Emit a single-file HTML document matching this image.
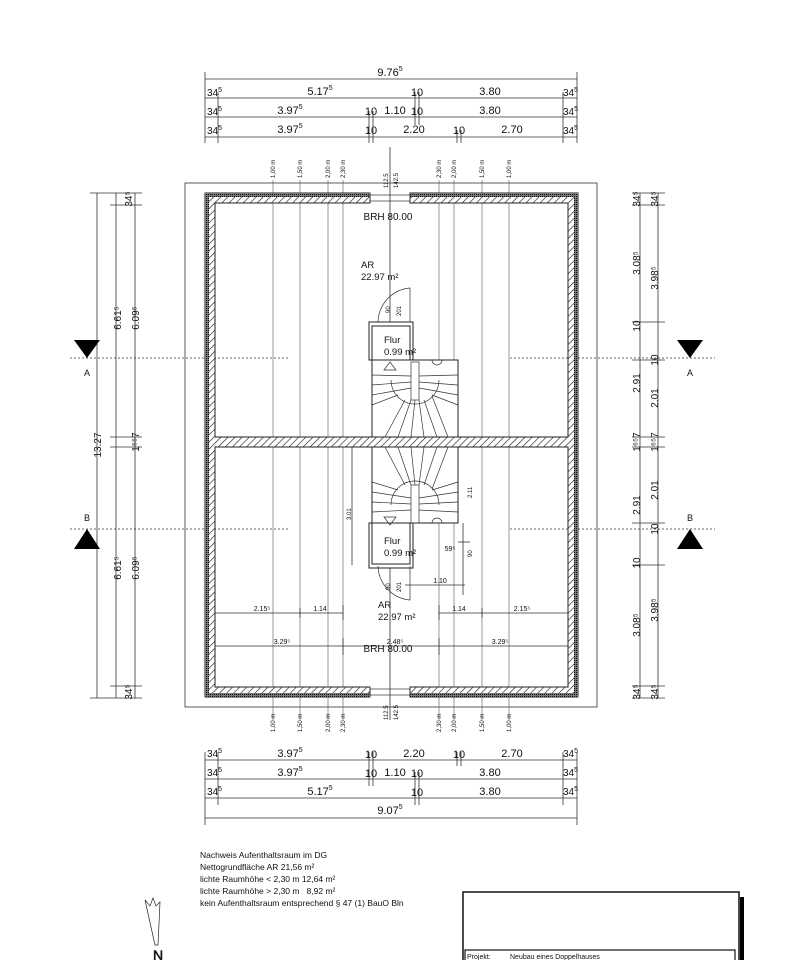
<!DOCTYPE html>
<html><head><meta charset="utf-8"><style>body{margin:0;background:#fff}svg{display:block}text{font-family:"Liberation Sans",sans-serif;fill:#111}</style></head><body>
<svg width="797" height="960" viewBox="0 0 797 960" xmlns="http://www.w3.org/2000/svg">
<defs>
<pattern id="h" width="5" height="5" patternUnits="userSpaceOnUse" patternTransform="rotate(45)"><rect width="5" height="5" fill="#fff"/><line x1="0" y1="0" x2="0" y2="5" stroke="#222" stroke-width="1.3"/></pattern>
<pattern id="d" width="2" height="2" patternUnits="userSpaceOnUse"><rect width="2" height="2" fill="#777"/><rect width="1" height="1" fill="#111"/></pattern>
</defs>
<g stroke="#333" stroke-width="0.8" fill="none">
<line x1="205" y1="79" x2="577" y2="79"/><line x1="205" y1="98" x2="577" y2="98"/><line x1="205" y1="117" x2="577" y2="117"/><line x1="205" y1="137" x2="577" y2="137"/>
<line x1="205" y1="72" x2="205" y2="143"/><line x1="577" y1="72" x2="577" y2="143"/><line x1="218" y1="92" x2="218" y2="143"/><line x1="563" y1="92" x2="563" y2="143"/>
<line x1="415" y1="92" x2="415" y2="125"/><line x1="419" y1="92" x2="419" y2="125"/><line x1="369" y1="111" x2="369" y2="143"/><line x1="373" y1="111" x2="373" y2="143"/><line x1="457" y1="130" x2="457" y2="143"/><line x1="461" y1="130" x2="461" y2="143"/>
<line x1="390" y1="147" x2="390" y2="720"/>
<line x1="205" y1="760" x2="577" y2="760"/><line x1="205" y1="779" x2="577" y2="779"/><line x1="205" y1="798" x2="577" y2="798"/><line x1="205" y1="818" x2="577" y2="818"/>
<line x1="205" y1="752" x2="205" y2="825"/><line x1="577" y1="752" x2="577" y2="825"/><line x1="218" y1="752" x2="218" y2="805"/><line x1="563" y1="752" x2="563" y2="805"/>
<line x1="369" y1="752" x2="369" y2="786"/><line x1="373" y1="752" x2="373" y2="786"/><line x1="457" y1="752" x2="457" y2="766"/><line x1="461" y1="752" x2="461" y2="766"/><line x1="415" y1="772" x2="415" y2="805"/><line x1="419" y1="772" x2="419" y2="805"/>
<line x1="97" y1="193" x2="97" y2="698"/><line x1="116" y1="193" x2="116" y2="698"/><line x1="135" y1="193" x2="135" y2="698"/>
<line x1="90" y1="193" x2="142" y2="193"/><line x1="90" y1="698" x2="142" y2="698"/><line x1="110" y1="205" x2="142" y2="205"/><line x1="110" y1="686" x2="142" y2="686"/><line x1="110" y1="437" x2="142" y2="437"/><line x1="110" y1="447" x2="142" y2="447"/>
<line x1="640" y1="193" x2="640" y2="698"/><line x1="658" y1="193" x2="658" y2="698"/>
<line x1="632" y1="193" x2="665" y2="193"/><line x1="632" y1="698" x2="665" y2="698"/><line x1="632" y1="205" x2="665" y2="205"/><line x1="632" y1="686" x2="665" y2="686"/><line x1="632" y1="437" x2="665" y2="437"/><line x1="632" y1="447" x2="665" y2="447"/><line x1="632" y1="322" x2="665" y2="322"/><line x1="632" y1="360" x2="665" y2="360"/><line x1="632" y1="523" x2="665" y2="523"/><line x1="632" y1="565" x2="665" y2="565"/>
<line x1="70" y1="358" x2="290" y2="358" stroke-dasharray="2,2"/><line x1="510" y1="358" x2="715" y2="358" stroke-dasharray="2,2"/>
<line x1="70" y1="529" x2="290" y2="529" stroke-dasharray="2,2"/><line x1="510" y1="529" x2="715" y2="529" stroke-dasharray="2,2"/>
<rect x="185" y="183" width="412" height="524"/>
<g stroke="#555" stroke-width="0.6"><line x1="273" y1="180" x2="273" y2="720"/><line x1="300" y1="180" x2="300" y2="720"/><line x1="328" y1="180" x2="328" y2="720"/><line x1="343" y1="180" x2="343" y2="720"/><line x1="439" y1="180" x2="439" y2="720"/><line x1="454" y1="180" x2="454" y2="720"/><line x1="482" y1="180" x2="482" y2="720"/><line x1="509" y1="180" x2="509" y2="720"/></g>
<line x1="215" y1="613" x2="343" y2="613"/><line x1="439" y1="613" x2="568" y2="613"/><line x1="215" y1="646" x2="568" y2="646"/>
<line x1="300" y1="608" x2="300" y2="618"/><line x1="343" y1="605" x2="343" y2="620"/><line x1="439" y1="605" x2="439" y2="620"/><line x1="482" y1="608" x2="482" y2="618"/><line x1="343" y1="638" x2="343" y2="655"/><line x1="439" y1="638" x2="439" y2="655"/>
<line x1="352" y1="447" x2="352" y2="565"/><line x1="405" y1="585" x2="465" y2="585"/><line x1="463" y1="523" x2="463" y2="595"/><line x1="458" y1="542" x2="470" y2="542"/>
</g>
<path d="M205 193H370V203H215V437H568V203H410V193H578V697H410V687H568V447H215V687H370V697H205Z" fill="url(#h)" stroke="#222" stroke-width="1"/>
<rect x="205" y="193" width="165" height="4" fill="url(#d)"/><rect x="410" y="193" width="168" height="4" fill="url(#d)"/><rect x="205" y="693" width="165" height="4" fill="url(#d)"/><rect x="410" y="693" width="168" height="4" fill="url(#d)"/>
<rect x="205" y="193" width="4" height="504" fill="url(#d)"/><rect x="574" y="193" width="4" height="504" fill="url(#d)"/>
<g stroke="#333" stroke-width="0.7" fill="none"><rect x="370" y="195" width="40" height="6"/><rect x="370" y="689" width="40" height="6"/></g>
<g stroke="#222" stroke-width="1" fill="#fff">
<rect x="369" y="322" width="44" height="38"/><rect x="372" y="326" width="38" height="34"/>
<rect x="372" y="360" width="86" height="77"/><rect x="372" y="447" width="86" height="76"/>
<rect x="369" y="523" width="44" height="45"/><rect x="372" y="523" width="38" height="41"/>
</g>
<g stroke="#333" stroke-width="0.7" fill="none">
<rect x="411" y="362" width="8" height="38"/><rect x="411" y="485" width="8" height="38"/>
<path d="M391 380 A24 24 0 0 0 439 380"/><path d="M391 505 A24 24 0 0 1 439 505"/>
<path d="M372 375L411 376M372 385L411 382M372 395L411 388M372 405L398 395M458 375L419 376M458 385L419 382M458 395L419 388M458 405L432 395M385 437L405 400M398 437L411 400M411 437L415 400M424 437L419 400M437 437L424 400M448 437L432 396"/>
<path d="M372 512L411 510M372 502L411 504M372 492L411 498M372 482L398 490M458 512L419 510M458 502L419 504M458 492L419 498M458 482L432 490M385 447L405 485M398 447L411 485M411 447L415 485M424 447L419 485M437 447L424 485M448 447L432 489"/>
<path d="M384 370L390 362L396 370Z"/><path d="M384 517L390 525L396 517Z"/>
<path d="M432 360A5 5 0 0 0 442 360M432 523A5 5 0 0 1 442 523"/>
<path d="M378 322A35 35 0 0 1 410 288V322"/><path d="M378 566A35 35 0 0 0 410 600V566"/>
</g>
<path d="M74 340H100L87 358Z M677 340H703L690 358Z M74 549H100L87 529Z M677 549H703L690 529Z" fill="#000"/>
<g font-size="11">
<text x="390" y="76" text-anchor="middle">9.76<tspan font-size="7" dy="-5">5</tspan></text>
<g font-size="10">
<text x="207" y="96">34<tspan font-size="7" dy="-4">5</tspan></text><text x="207" y="115">34<tspan font-size="7" dy="-4">5</tspan></text><text x="207" y="134">34<tspan font-size="7" dy="-4">5</tspan></text>
<text x="563" y="96">34<tspan font-size="7" dy="-4">5</tspan></text><text x="563" y="115">34<tspan font-size="7" dy="-4">5</tspan></text><text x="563" y="134">34<tspan font-size="7" dy="-4">5</tspan></text>
<text x="207" y="776">34<tspan font-size="7" dy="-4">5</tspan></text><text x="207" y="757">34<tspan font-size="7" dy="-4">5</tspan></text><text x="207" y="795">34<tspan font-size="7" dy="-4">5</tspan></text>
<text x="563" y="776">34<tspan font-size="7" dy="-4">5</tspan></text><text x="563" y="757">34<tspan font-size="7" dy="-4">5</tspan></text><text x="563" y="795">34<tspan font-size="7" dy="-4">5</tspan></text>
</g>
<text x="320" y="95" text-anchor="middle">5.17<tspan font-size="7" dy="-5">5</tspan></text><text x="417" y="96" text-anchor="middle">10</text><text x="490" y="95" text-anchor="middle">3.80</text>
<text x="290" y="114" text-anchor="middle">3.97<tspan font-size="7" dy="-5">5</tspan></text><text x="371" y="115" text-anchor="middle">10</text><text x="395" y="114" text-anchor="middle">1.10</text><text x="417" y="115" text-anchor="middle">10</text><text x="490" y="114" text-anchor="middle">3.80</text>
<text x="290" y="133" text-anchor="middle">3.97<tspan font-size="7" dy="-5">5</tspan></text><text x="371" y="134" text-anchor="middle">10</text><text x="414" y="133" text-anchor="middle">2.20</text><text x="459" y="134" text-anchor="middle">10</text><text x="512" y="133" text-anchor="middle">2.70</text>
<text x="290" y="757" text-anchor="middle">3.97<tspan font-size="7" dy="-5">5</tspan></text><text x="371" y="758" text-anchor="middle">10</text><text x="414" y="757" text-anchor="middle">2.20</text><text x="459" y="758" text-anchor="middle">10</text><text x="512" y="757" text-anchor="middle">2.70</text>
<text x="290" y="776" text-anchor="middle">3.97<tspan font-size="7" dy="-5">5</tspan></text><text x="371" y="777" text-anchor="middle">10</text><text x="395" y="776" text-anchor="middle">1.10</text><text x="417" y="777" text-anchor="middle">10</text><text x="490" y="776" text-anchor="middle">3.80</text>
<text x="320" y="795" text-anchor="middle">5.17<tspan font-size="7" dy="-5">5</tspan></text><text x="417" y="796" text-anchor="middle">10</text><text x="490" y="795" text-anchor="middle">3.80</text>
<text x="390" y="814" text-anchor="middle">9.07<tspan font-size="7" dy="-5">5</tspan></text>
<text x="87" y="376" text-anchor="middle" font-size="9">A</text><text x="87" y="521" text-anchor="middle" font-size="9">B</text>
<text x="690" y="376" text-anchor="middle" font-size="9">A</text><text x="690" y="521" text-anchor="middle" font-size="9">B</text>
<text x="388" y="220" text-anchor="middle" font-size="10">BRH 80.00</text><text x="388" y="652" text-anchor="middle" font-size="10">BRH 80.00</text>
<g font-size="9.5"><text x="361" y="268">AR</text><text x="361" y="280">22.97 m²</text><text x="378" y="608">AR</text><text x="378" y="620">22.97 m²</text>
<text x="384" y="343">Flur</text><text x="384" y="355">0.99 m²</text><text x="384" y="544">Flur</text><text x="384" y="556">0.99 m²</text></g>
<g font-size="7"><text x="262" y="611" text-anchor="middle">2.15⁵</text><text x="320" y="611" text-anchor="middle">1.14</text><text x="459" y="611" text-anchor="middle">1.14</text><text x="522" y="611" text-anchor="middle">2.15⁵</text>
<text x="282" y="644" text-anchor="middle">3.29⁵</text><text x="395" y="644" text-anchor="middle">2.48⁵</text><text x="500" y="644" text-anchor="middle">3.29⁵</text><text x="440" y="583" text-anchor="middle">1.10</text><text x="450" y="551" text-anchor="middle">59⁵</text></g>
<g font-size="10">
<text transform="translate(101,445) rotate(-90)" text-anchor="middle">13.27</text>
<text transform="translate(121,318) rotate(-90)" text-anchor="middle">6.61⁵</text><text transform="translate(139,318) rotate(-90)" text-anchor="middle">6.09⁵</text>
<text transform="translate(121,568) rotate(-90)" text-anchor="middle">6.61⁵</text><text transform="translate(139,568) rotate(-90)" text-anchor="middle">6.09⁵</text>
<text transform="translate(132,199) rotate(-90)" text-anchor="middle">34⁵</text><text transform="translate(132,692) rotate(-90)" text-anchor="middle">34⁵</text>
<text transform="translate(139,442) rotate(-90)" text-anchor="middle">1⁶⁵7</text>
<text transform="translate(640,199) rotate(-90)" text-anchor="middle">34⁵</text><text transform="translate(658,199) rotate(-90)" text-anchor="middle">34⁵</text>
<text transform="translate(640,692) rotate(-90)" text-anchor="middle">34⁵</text><text transform="translate(658,692) rotate(-90)" text-anchor="middle">34⁵</text>
<text transform="translate(640,263) rotate(-90)" text-anchor="middle">3.08⁵</text><text transform="translate(658,278) rotate(-90)" text-anchor="middle">3.98⁵</text>
<text transform="translate(640,326) rotate(-90)" text-anchor="middle">10</text><text transform="translate(658,360) rotate(-90)" text-anchor="middle">10</text>
<text transform="translate(640,383) rotate(-90)" text-anchor="middle">2.91</text><text transform="translate(658,398) rotate(-90)" text-anchor="middle">2.01</text>
<text transform="translate(640,442) rotate(-90)" text-anchor="middle">1⁶⁵7</text><text transform="translate(658,442) rotate(-90)" text-anchor="middle">1⁶⁵7</text>
<text transform="translate(640,505) rotate(-90)" text-anchor="middle">2.91</text><text transform="translate(658,490) rotate(-90)" text-anchor="middle">2.01</text>
<text transform="translate(640,563) rotate(-90)" text-anchor="middle">10</text><text transform="translate(658,529) rotate(-90)" text-anchor="middle">10</text>
<text transform="translate(640,625) rotate(-90)" text-anchor="middle">3.08⁵</text><text transform="translate(658,610) rotate(-90)" text-anchor="middle">3.98⁵</text>
</g>
<g font-size="6">
<text transform="translate(275,178) rotate(-90)">1,00 m</text><text transform="translate(302,178) rotate(-90)">1,50 m</text><text transform="translate(330,178) rotate(-90)">2,00 m</text><text transform="translate(345,178) rotate(-90)">2,30 m</text>
<text transform="translate(441,178) rotate(-90)">2,30 m</text><text transform="translate(456,178) rotate(-90)">2,00 m</text><text transform="translate(484,178) rotate(-90)">1,50 m</text><text transform="translate(511,178) rotate(-90)">1,00 m</text>
<text transform="translate(388,188) rotate(-90)">112.5</text><text transform="translate(398,188) rotate(-90)">142.5</text>
<text transform="translate(275,732) rotate(-90)">1,00 m</text><text transform="translate(302,732) rotate(-90)">1,50 m</text><text transform="translate(330,732) rotate(-90)">2,00 m</text><text transform="translate(345,732) rotate(-90)">2,30 m</text>
<text transform="translate(441,732) rotate(-90)">2,30 m</text><text transform="translate(456,732) rotate(-90)">2,00 m</text><text transform="translate(484,732) rotate(-90)">1,50 m</text><text transform="translate(511,732) rotate(-90)">1,00 m</text>
<text transform="translate(388,720) rotate(-90)">112.5</text><text transform="translate(398,720) rotate(-90)">142.5</text>
<text transform="translate(390,313) rotate(-90)">90</text><text transform="translate(401,316) rotate(-90)">201</text>
<text transform="translate(390,590) rotate(-90)">90</text><text transform="translate(401,592) rotate(-90)">201</text>
<text transform="translate(351,520) rotate(-90)">3.01</text><text transform="translate(472,498) rotate(-90)">2.11</text><text transform="translate(472,557) rotate(-90)">90</text>
</g>
</g>
<g font-size="8.5"><text x="200" y="858">Nachweis Aufenthaltsraum im DG</text><text x="200" y="870">Nettogrundfläche AR 21,56 m²</text><text x="200" y="882">lichte Raumhöhe &lt; 2,30 m 12,64 m²</text><text x="200" y="894">lichte Raumhöhe &gt; 2,30 m&#160;&#160; 8,92 m²</text><text x="200" y="906">kein Aufenthaltsraum entsprechend § 47 (1) BauO Bln</text></g>
<rect x="740" y="897" width="4" height="63" fill="#000"/>
<rect x="463" y="892" width="276" height="70" fill="none" stroke="#111" stroke-width="1.5"/>
<rect x="465" y="950" width="270" height="12" fill="none" stroke="#111" stroke-width="1.2"/>
<text x="467" y="959" font-size="7">Projekt:</text><text x="510" y="959" font-size="7">Neubau eines Doppelhauses</text>
<path d="M145 900L150 906L153 898L156 906L160 902L158 945L155 945Z" fill="none" stroke="#222" stroke-width="0.7"/>
<text x="153" y="960" font-size="14" fill="none" stroke="#222" stroke-width="0.6">N</text>
</svg>
</body></html>
